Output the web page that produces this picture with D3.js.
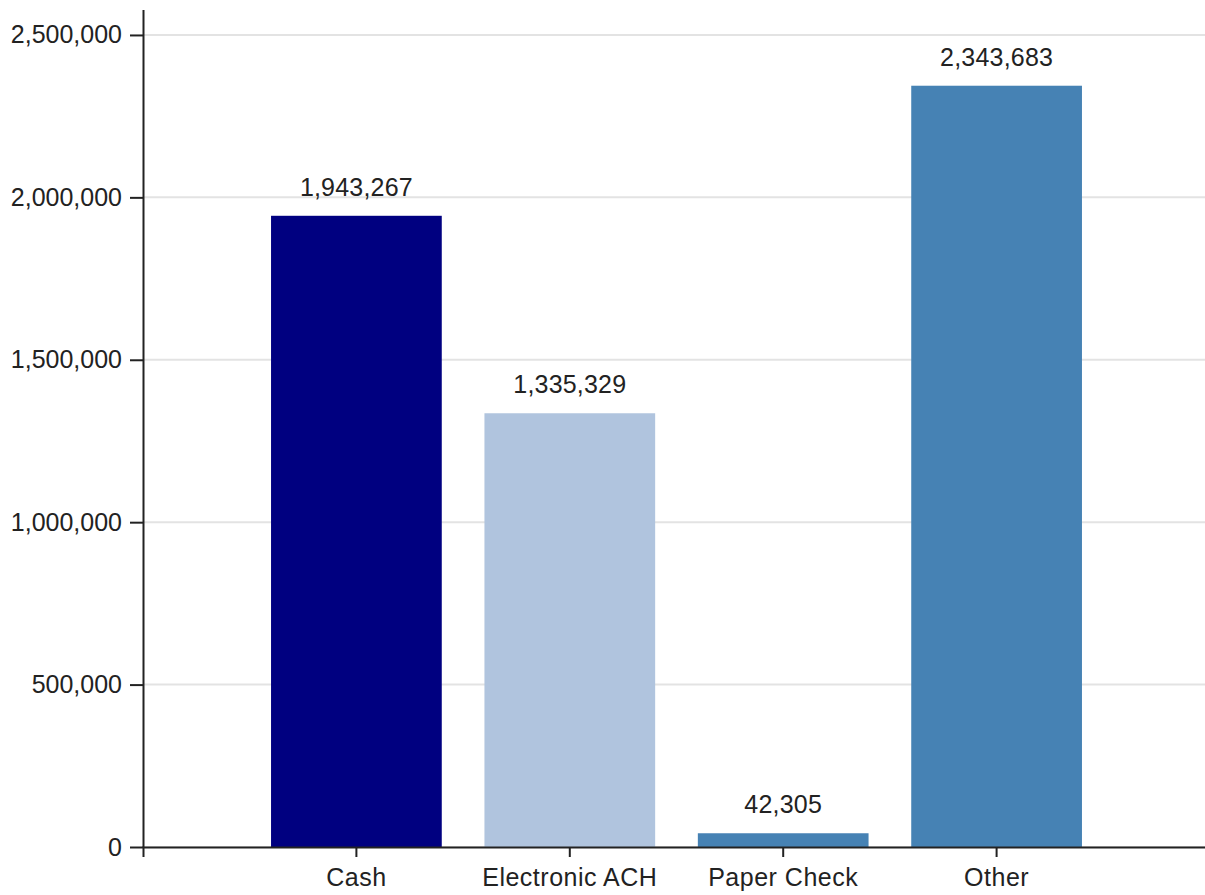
<!DOCTYPE html>
<html>
<head>
<meta charset="utf-8">
<script src="https://cdn.jsdelivr.net/npm/d3@7"></script>
<style>
  html, body { margin: 0; padding: 0; background: #fff; }
  svg { display: block; font-family: "Liberation Sans", Arial, sans-serif; }
</style>
</head>
<body>
<svg id="chart" width="1205" height="895"></svg>
<script>
const categories = ["Cash", "Electronic ACH", "Paper Check", "Other"];
const values = [1943267, 1335329, 42305, 2343683];
const colors = ["#000080", "#b0c4de", "#4682b4", "#4682b4"];
const yTicks = [0, 500000, 1000000, 1500000, 2000000, 2500000];

const svg = d3.select("#chart");
const mLeft = 143, mBottom = 847, mTop = 9.6, mRight = 1210;
const fmt = d3.format(",");

const x = d3.scaleBand().domain(categories).range([mLeft, mRight])
  .paddingInner(0.2).paddingOuter(0.6);
const y = d3.scaleLinear().domain([0, d3.max(values) * 1.1]).range([mBottom, mTop]);

// grid
svg.append("g").selectAll("line").data(yTicks).join("line")
  .attr("x1", mLeft).attr("x2", 1205)
  .attr("y1", d => y(d)).attr("y2", d => y(d))
  .attr("stroke", "#e3e3e3").attr("stroke-width", 2);

// bars
const data = categories.map((c, i) => ({c, v: values[i], col: colors[i]}));
svg.append("g").selectAll("rect").data(data).join("rect")
  .attr("x", d => x(d.c)).attr("width", x.bandwidth())
  .attr("y", d => y(d.v)).attr("height", d => mBottom - y(d.v))
  .attr("fill", d => d.col);

// value labels
svg.append("g").selectAll("text").data(data).join("text")
  .attr("x", d => x(d.c) + x.bandwidth() / 2)
  .attr("y", d => y(d.v) - 20)
  .attr("text-anchor", "middle")
  .attr("font-size", 25).attr("fill", "#222")
  .attr("letter-spacing", "0.2px")
  .text(d => fmt(d.v));

// y axis
const yAxis = svg.append("g").attr("transform", `translate(${mLeft},0)`)
  .call(d3.axisLeft(y).tickValues(yTicks).tickFormat(fmt).tickSize(13).tickSizeOuter(0).tickPadding(8));
// x axis
const xAxis = svg.append("g").attr("transform", `translate(0,${mBottom})`)
  .call(d3.axisBottom(x).tickSize(10).tickSizeOuter(10).tickPadding(11));

[yAxis, xAxis].forEach(g => {
  g.selectAll("path, line").attr("stroke", "#222").attr("stroke-width", 2);
  g.selectAll("text").attr("font-size", 25).attr("fill", "#222")
    .attr("font-family", "Liberation Sans, Arial, sans-serif");
});
xAxis.selectAll("text").attr("letter-spacing", "0.5px");
</script>
</body>
</html>
